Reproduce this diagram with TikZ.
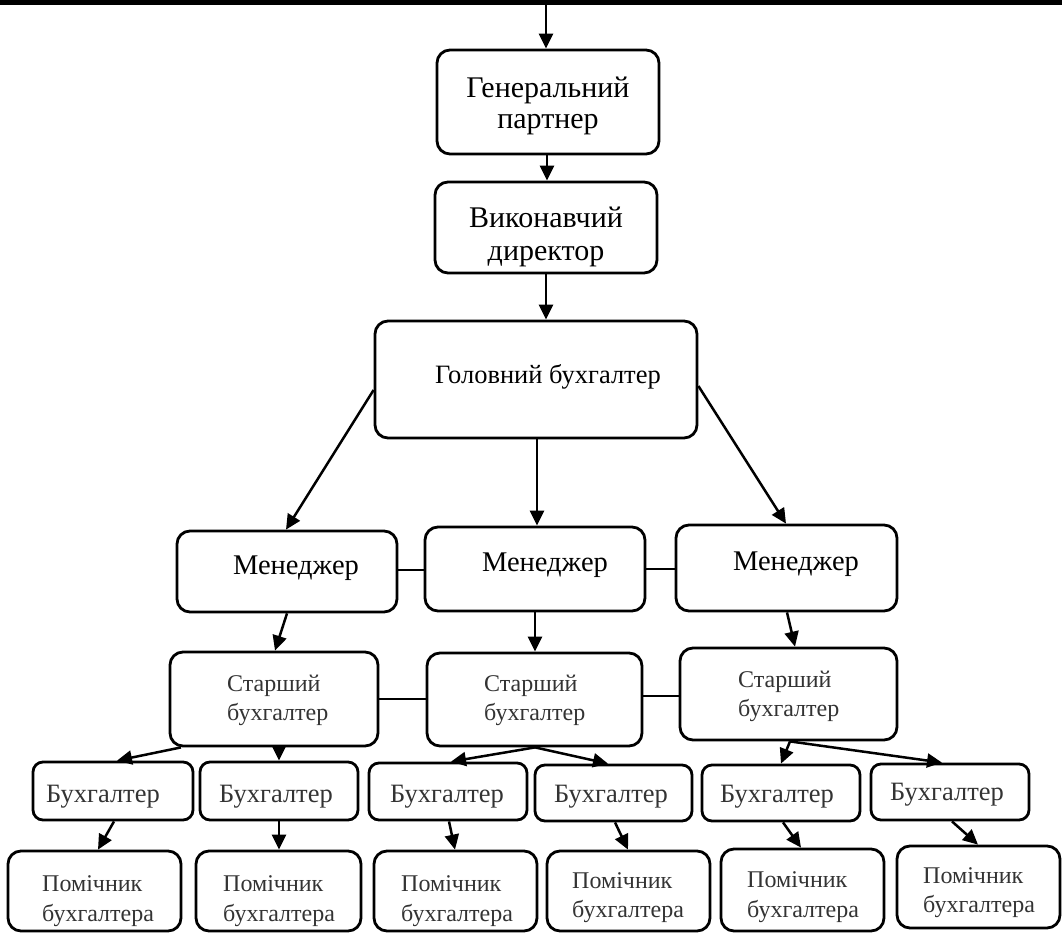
\documentclass[tikz,border=0pt]{standalone}
\usepackage{fontspec}
\setmainfont{Liberation Serif}
\usetikzlibrary{arrows.meta,fit}
\begin{document}
\begin{tikzpicture}[x=1pt,y=-1pt,
  box/.style={draw, line width=2.8pt, rounded corners=13pt, inner sep=0pt},
  sbox/.style={box, rounded corners=10pt},
  arr/.style={line width=2.5pt, -{Triangle[length=15pt,width=14pt]}},
  link/.style={line width=1.1pt},
  tG/.style={anchor=base, inner sep=0pt, font=\fontsize{30}{34}\selectfont},
  tH/.style={anchor=base, inner sep=0pt, font=\fontsize{26.5}{30}\selectfont},
  tM/.style={anchor=base, inner sep=0pt, font=\fontsize{28.5}{32}\selectfont},
  tS/.style={anchor=base west, inner sep=0pt, text=black!80, font=\fontsize{24}{28}\selectfont},
  tB/.style={anchor=base, inner sep=0pt, text=black!80, font=\fontsize{26.5}{30}\selectfont},
  tP/.style={anchor=base west, inner sep=0pt, text=black!80, font=\fontsize{24}{28}\selectfont}]
\useasboundingbox (0,0) rectangle (1062,932);
\fill[black] (0,0) rectangle (1062,5);
\coordinate (top) at (546,4);

% boxes
\node[box, fit={(437,50) (659,154)}] (g1) {};
\node[box, fit={(435,182) (657,273)}] (g2) {};
\node[box, fit={(375,321) (697,438)}] (g3) {};
\node[box, fit={(177,531) (397,612)}] (m1) {};
\node[box, fit={(425,527) (645,611)}] (m2) {};
\node[box, fit={(676,525) (897,611)}] (m3) {};
\node[box, fit={(170,652) (378,746)}] (s1) {};
\node[box, fit={(427,653) (642,746)}] (s2) {};
\node[box, fit={(680,648) (897,740)}] (s3) {};
\node[sbox, fit={(33,762) (193,820)}] (b1) {};
\node[sbox, fit={(200,762) (358,820)}] (b2) {};
\node[sbox, fit={(369,763) (527,820)}] (b3) {};
\node[sbox, fit={(535,765) (692,821)}] (b4) {};
\node[sbox, fit={(702,765) (860,821)}] (b5) {};
\node[sbox, fit={(871,764) (1029,820)}] (b6) {};
\node[box, fit={(8,851) (181,931)}] (p1) {};
\node[box, fit={(196,851) (361,931)}] (p2) {};
\node[box, fit={(374,851) (537,931)}] (p3) {};
\node[box, fit={(547,851) (710,931)}] (p4) {};
\node[box, fit={(721,849) (884,931)}] (p5) {};
\node[box, fit={(897,846) (1060,928)}] (p6) {};

% texts
\node[tG] (g1a) at (548,97) {Генеральний};
\node[tG] (g1b) at (548,128) {партнер};
\node[tG] (g2a) at (546,227) {Виконавчий};
\node[tG] (g2b) at (546,260) {директор};
\node[tH] (g3a) at (548,383) {Головний бухгалтер};
\node[tM] (m1a) at (296,574) {Менеджер};
\node[tM] (m2a) at (545,571) {Менеджер};
\node[tM] (m3a) at (796,570) {Менеджер};
\node[tS] (s1a) at (227,691) {Старший};
\node[tS] (s1b) at (227,720) {бухгалтер};
\node[tS] (s2a) at (484,691) {Старший};
\node[tS] (s2b) at (484,720) {бухгалтер};
\node[tS] (s3a) at (738,687) {Старший};
\node[tS] (s3b) at (738,716) {бухгалтер};
\node[tB] (b1a) at (103,802) {Бухгалтер};
\node[tB] (b2a) at (276,802) {Бухгалтер};
\node[tB] (b3a) at (447,802) {Бухгалтер};
\node[tB] (b4a) at (611,802) {Бухгалтер};
\node[tB] (b5a) at (777,802) {Бухгалтер};
\node[tB] (b6a) at (947,800) {Бухгалтер};
\node[tP] (p1a) at (42,891) {Помічник};
\node[tP] (p1b) at (42,921) {бухгалтера};
\node[tP] (p2a) at (223,891) {Помічник};
\node[tP] (p2b) at (223,921) {бухгалтера};
\node[tP] (p3a) at (401,891) {Помічник};
\node[tP] (p3b) at (401,921) {бухгалтера};
\node[tP] (p4a) at (572,888) {Помічник};
\node[tP] (p4b) at (572,917) {бухгалтера};
\node[tP] (p5a) at (747,887) {Помічник};
\node[tP] (p5b) at (747,917) {бухгалтера};
\node[tP] (p6a) at (923,883) {Помічник};
\node[tP] (p6b) at (923,912) {бухгалтера};

% thin links
\draw[link] (m1.east |- 0,570) -- (m2.west |- 0,570);
\draw[link] (m2.east |- 0,569) -- (m3.west |- 0,569);
\draw[link] (s1.east |- 0,699) -- (s2.west |- 0,699);
\draw[link] (s2.east |- 0,696) -- (s3.west |- 0,696);

% arrows
\draw[arr] (top) -- (g1.north -| top);
\draw[arr] (g1.south -| 547,0) -- (g2.north -| 547,0);
\draw[arr] (g2.south -| 546,0) -- (g3.north -| 546,0);
\draw[arr] (g3.west |- 0,390) -- (m1.north -| 286,0);
\draw[arr] (g3.south -| 537,0) -- (m2.north -| 537,0);
\draw[arr] (g3.east |- 0,386) -- (m3.north -| 786,0);
\draw[arr] (m1.south -| 287,0) -- (s1.north -| 275,0);
\draw[arr] (m2.south -| 535,0) -- (s2.north -| 535,0);
\draw[arr] (m3.south -| 787,0) -- (s3.north -| 795,0);
\draw[arr] (s1.south -| 181,0) -- (b1.north -| 117,0);
\draw[arr] (s1.south -| 279,0) -- (b2.north -| 279,0);
\draw[arr] (s2.south -| 535,0) -- (b3.north -| 451,0);
\draw[arr] (s2.south -| 535,0) -- (b4.north -| 608,0);
\draw[arr] (s3.south -| 790,0) -- (b5.north -| 781,0);
\draw[arr] (s3.south -| 790,0) -- (b6.north -| 942,0);
\draw[arr] (b1.south -| 114,0) -- (p1.north -| 98,0);
\draw[arr] (b2.south -| 279,0) -- (p2.north -| 279,0);
\draw[arr] (b3.south -| 449,0) -- (p3.north -| 455,0);
\draw[arr] (b4.south -| 615,0) -- (p4.north -| 628,0);
\draw[arr] (b5.south -| 783,0) -- (p5.north -| 801,0);
\draw[arr] (b6.south -| 952,0) -- (p6.north -| 978,0);
\end{tikzpicture}
\end{document}
